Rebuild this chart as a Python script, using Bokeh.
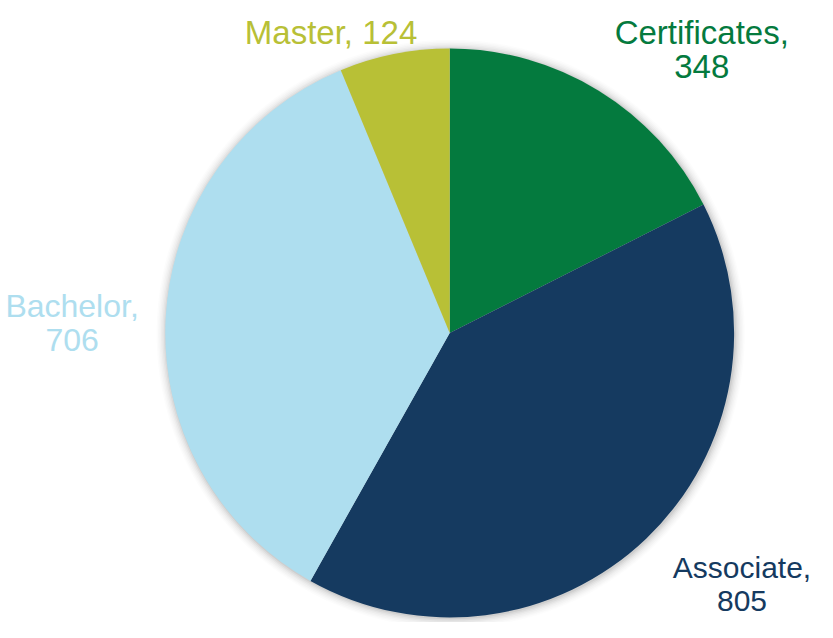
import math
from bokeh.plotting import figure
from bokeh.models import Range1d, ColumnDataSource
from bokeh.core.properties import value
from bokeh.embed import file_html
from bokeh.resources import INLINE

# ---- data ----
categories = ["Certificates", "Associate", "Bachelor", "Master"]
counts = [348, 805, 706, 124]
colors = ["#047A3E", "#153A60", "#AEDEEF", "#B8C036"]

# ---- layout (reference-pixel data coordinates, y up) ----
W, H = 817, 622
XR, YR = 833, 638
cx, cy, R = 458, 297, 290
label_lines = [["Certificates,", "348"], ["Associate,", "805"], ["Bachelor,", "706"], ["Master, 124"]]
label_pos = [(715, 605), (756, 56), (73, 325), (337, 605)]
label_size = ["33px", "30px", "32px", "33px"]
label_gap = [35, 34, 35, 35]

p = figure(width=W, height=H, output_backend="svg", toolbar_location=None,
           x_range=Range1d(0, XR), y_range=Range1d(0, YR), min_border=0)
p.axis.visible = False
p.grid.visible = False
p.outline_line_color = None
p.background_fill_color = "white"
p.border_fill_color = "white"

# soft shadow
for i, a in enumerate([0.05, 0.04, 0.03, 0.025, 0.02, 0.015, 0.01]):
    p.circle(x=[cx + 1], y=[cy - 1], radius=R + 1 + i * 1.5, fill_color="#000000",
             fill_alpha=a, line_color=None)

total = sum(counts)
starts, ends = [], []
acc = 0.0
for c in counts:
    a0 = math.pi / 2 - 2 * math.pi * acc / total
    acc += c
    a1 = math.pi / 2 - 2 * math.pi * acc / total
    starts.append(a0)
    ends.append(a1)

src = ColumnDataSource(dict(cat=categories, val=counts, color=colors, start=starts, end=ends))
p.wedge(x=cx, y=cy, radius=R, start_angle="start", end_angle="end", direction="clock",
        fill_color="color", line_color=None, source=src)

tx, ty, tt, tc, ts = [], [], [], [], []
for lines, (x, y), col, sz, gap in zip(label_lines, label_pos, colors, label_size, label_gap):
    for j, ln in enumerate(lines):
        tx.append(x)
        ty.append(y - j * gap)
        tt.append(ln)
        tc.append(col)
        ts.append(sz)
tsrc = ColumnDataSource(dict(x=tx, y=ty, text=tt, color=tc, size=ts))
p.text(x="x", y="y", text="text", text_color="color", text_font_size="size",
       text_align="center", text_baseline="alphabetic",
       text_font=value("Liberation Sans"), source=tsrc)

open("out.html", "w").write(file_html(p, INLINE))
